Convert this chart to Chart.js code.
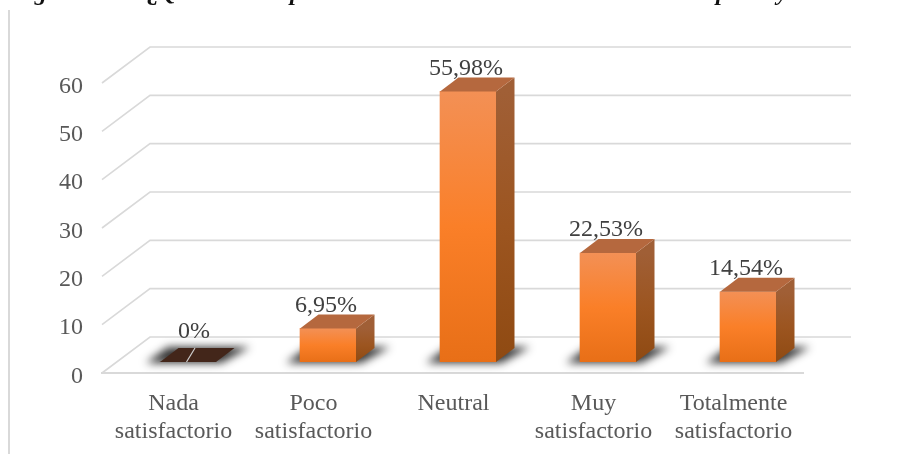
<!DOCTYPE html>
<html>
<head>
<meta charset="utf-8">
<style>
html,body{margin:0;padding:0;background:#fff}
canvas{display:block;filter:blur(0.35px)}
</style>
<script src="https://cdn.jsdelivr.net/npm/chart.js@4"></script>
</head>
<body>
<canvas id="c" width="905" height="454"></canvas>
<script>
const categories = [["Nada","satisfactorio"],["Poco","satisfactorio"],["Neutral"],["Muy","satisfactorio"],["Totalmente","satisfactorio"]];
const values = [0, 6.95, 55.98, 22.53, 14.54];
const valueLabels = ["0%","6,95%","55,98%","22,53%","14,54%"];
const yTicks = [0,10,20,30,40,50,60];
const captionPieces = ["Figura","¿Qué","p","p","y"];
const captionX = [12,147,290,716,777];

const FONT = '"Liberation Serif"';
const GRID = '#d9d9d9';
const BAR_SHIFT = {x:16, y:-11};
const WALL = {x:48, y:-36};
const SIDE = {x:18.5, y:-14};

function poly(ctx, pts, fill){
  ctx.beginPath();
  pts.forEach((p,i)=> i ? ctx.lineTo(p[0],p[1]) : ctx.moveTo(p[0],p[1]));
  ctx.closePath();
  ctx.fillStyle = fill;
  ctx.fill();
}

function nudgeLabels(s, dx, dy){
  if(s._nudged) return;
  s._nudged = true;
  const orig = s._computeLabelItems.bind(s);
  s._computeLabelItems = a => {
    const items = orig(a);
    items.forEach(it => { it.options.translation[0] += dx; it.options.translation[1] += dy; });
    return items;
  };
}

const depthPlugin = {
  id:'depth',
  beforeDatasetsDraw(chart){
    const {ctx, scales:{x,y}} = chart;
    ctx.save();
    // page margin rule
    ctx.strokeStyle = GRID; ctx.lineWidth = 2;
    ctx.beginPath(); ctx.moveTo(9,10); ctx.lineTo(9,454); ctx.stroke();
    // caption, cut off by the top of the picture
    ctx.fillStyle = '#111';
    ctx.font = 'italic bold 24px ' + FONT;
    ctx.textAlign = 'left'; ctx.textBaseline = 'alphabetic';
    captionPieces.forEach((t,i)=>ctx.fillText(t, captionX[i], 0));
    // back wall and side wall grid
    ctx.strokeStyle = GRID; ctx.lineWidth = 1.6;
    yTicks.forEach(v=>{
      const py = y.getPixelForValue(v);
      ctx.beginPath();
      ctx.moveTo(x.left, py);
      ctx.lineTo(x.left+WALL.x, py+WALL.y);
      ctx.lineTo(x.right+WALL.x+1, py+WALL.y);
      ctx.stroke();
    });
    // floor front edge runs slightly past the last category
    ctx.lineWidth = 2;
    ctx.beginPath();
    ctx.moveTo(x.right-2, y.bottom); ctx.lineTo(x.right+2, y.bottom);
    ctx.stroke();
    // floor shadows
    const meta = chart.getDatasetMeta(0);
    meta.data.forEach(bar=>{
      const x0 = bar.x - bar.width/2 + BAR_SHIFT.x, x1 = bar.x + bar.width/2 + BAR_SHIFT.x;
      const by = bar.base + BAR_SHIFT.y;
      ctx.save();
      ctx.filter = 'blur(4px)';
      poly(ctx, [[x0-14,by+1],[x1+5,by+1],[x1+34,by-15],[x0+8,by-15]], 'rgba(15,15,15,0.85)');
      ctx.restore();
    });
    ctx.restore();
  },
  beforeDatasetDraw(chart){
    chart.ctx.save();
    chart.ctx.translate(BAR_SHIFT.x, BAR_SHIFT.y);
  },
  afterDatasetDraw(chart){
    chart.ctx.restore();
  },
  afterDatasetsDraw(chart){
    const {ctx} = chart;
    const meta = chart.getDatasetMeta(0);
    ctx.save();
    meta.data.forEach((bar,i)=>{
      const x0 = bar.x - bar.width/2 + BAR_SHIFT.x, x1 = bar.x + bar.width/2 + BAR_SHIFT.x;
      const top = bar.y + BAR_SHIFT.y, by = bar.base + BAR_SHIFT.y;
      const flat = values[i] === 0;
      if (!flat){
        const g = ctx.createLinearGradient(0, top, 0, by);
        g.addColorStop(0,'#a05f36'); g.addColorStop(0.5,'#9c5520'); g.addColorStop(1,'#8f4a12');
        poly(ctx, [[x1,top],[x1+SIDE.x,top+SIDE.y],[x1+SIDE.x,by+SIDE.y],[x1,by]], g);
      }
      poly(ctx, [[x0,top],[x1,top],[x1+SIDE.x,top+SIDE.y],[x0+SIDE.x,top+SIDE.y]], flat ? '#43261a' : '#b5683e');
      if (flat){
        ctx.strokeStyle = '#cfcfcf'; ctx.lineWidth = 1.2;
        ctx.beginPath();
        ctx.moveTo(bar.x+BAR_SHIFT.x-1.5, by);
        ctx.lineTo(bar.x+BAR_SHIFT.x+7, by+SIDE.y);
        ctx.stroke();
      }
      ctx.fillStyle = '#404040';
      ctx.font = '24px ' + FONT;
      ctx.textAlign = 'center'; ctx.textBaseline = 'middle';
      ctx.fillText(valueLabels[i], bar.x+BAR_SHIFT.x+(flat?6:-2), top+(flat?-30:-23));
    });
    ctx.restore();
  }
};

new Chart(document.getElementById('c'), {
  type:'bar',
  data:{
    labels:categories,
    datasets:[{
      data:values,
      barThickness:56,
      borderWidth:0,
      backgroundColor(c){
        const chart = c.chart, ys = chart.scales.y;
        if (!ys || !c.parsed || c.parsed.y === 0) return '#43261a';
        const g = chart.ctx.createLinearGradient(0, ys.getPixelForValue(c.parsed.y), 0, ys.bottom);
        g.addColorStop(0,'#f39055'); g.addColorStop(0.5,'#fa7f28'); g.addColorStop(1,'#e86f17');
        return g;
      }
    }]
  },
  plugins:[depthPlugin],
  options:{
    responsive:false,
    animation:false,
    layout:{padding:{left:10,right:103,top:83,bottom:0}},
    plugins:{legend:{display:false},tooltip:{enabled:false},title:{display:false}},
    scales:{
      x:{
        grid:{display:false},
        border:{display:true,color:GRID,width:2},
        afterFit(s){s.height=81;},
        afterDataLimits(s){ nudgeLabels(s, 1.5, 0); },
        ticks:{color:'#595959',font:{family:FONT,size:24,lineHeight:1.17},padding:9,maxRotation:0,minRotation:0,autoSkip:false}
      },
      y:{
        min:0,max:60,
        grid:{display:false},
        border:{display:false},
        afterFit(s){s.width=92;},
        afterBuildTicks(s){s.ticks=yTicks.map(v=>({value:v}));},
        afterDataLimits(s){ nudgeLabels(s, 0, 3.5); },
        ticks:{color:'#595959',font:{family:FONT,size:24},padding:11}
      }
    }
  }
});
</script>
</body>
</html>
